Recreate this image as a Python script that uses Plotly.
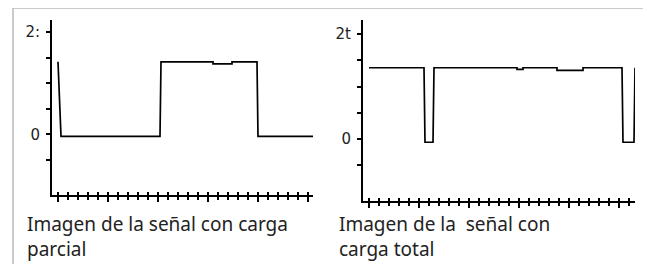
import plotly.graph_objects as go

# page is shown with the browser's default 8px body margin
OFF = 8
W, H = 651 - OFF, 264 - OFF

# ---- data (x in time units, y in multiples of t) ----
x_parcial = [0, 0.3, 10.2, 10.3, 15.5, 15.5, 17.4, 17.4, 19.9, 20.0, 25.5]
y_parcial = [1.42, -0.04, -0.04, 1.42, 1.42, 1.38, 1.38, 1.42, 1.42, -0.04, -0.04]

x_total = [0, 5.5, 5.6, 6.4, 6.5, 14.8, 14.8, 15.4, 15.4, 18.8, 18.8, 21.4, 21.4, 25.3, 25.4, 26.5, 26.6]
y_total = [1.36, 1.36, -0.06, -0.06, 1.36, 1.36, 1.33, 1.33, 1.36, 1.36, 1.31, 1.31, 1.36, 1.36, -0.06, -0.06, 1.36]

y_tickvals = [-0.5, 0, 0.5, 1, 1.5, 2]
y_ticktext_parcial = ["", "0", "", "", "", "2:"]
y_ticktext_total = ["", "0", "", "", "", "2t"]

caption_parcial = ["Imagen de la señal con carga", "parcial"]
caption_total = ["Imagen de la\u00a0 señal con", "carga total"]


def px_x(p):
    return (p - OFF) / W


def px_y(p):
    return 1 - (p - OFF) / H


fig = go.Figure()
fig.add_trace(go.Scatter(x=x_parcial, y=y_parcial, mode="lines",
                         line=dict(color="black", width=1.7), xaxis="x", yaxis="y",
                         showlegend=False, hoverinfo="skip"))
fig.add_trace(go.Scatter(x=x_total, y=y_total, mode="lines",
                         line=dict(color="black", width=1.7), xaxis="x2", yaxis="y2",
                         showlegend=False, hoverinfo="skip"))
# invisible traces so the overlay axes (upper halves of the cross ticks) are drawn
fig.add_trace(go.Scatter(x=[x_parcial[0]], y=[y_parcial[0]], mode="markers", opacity=0,
                         xaxis="x3", yaxis="y", showlegend=False, hoverinfo="skip"))
fig.add_trace(go.Scatter(x=[x_total[0]], y=[y_total[0]], mode="markers", opacity=0,
                         xaxis="x4", yaxis="y2", showlegend=False, hoverinfo="skip"))

tickfont = dict(family="DejaVu Sans", size=15, color="#222")


def xaxis_cfg(domain, rng, anchor):
    return dict(domain=domain, range=rng, anchor=anchor, showgrid=False, zeroline=False,
                showline=True, linecolor="black", linewidth=2,
                tickmode="linear", tick0=0, dtick=5, ticks="outside", ticklen=5,
                tickwidth=1.5, tickcolor="black", showticklabels=False,
                minor=dict(tickmode="linear", tick0=0, dtick=1, ticks="outside",
                           ticklen=3, tickwidth=1.5, tickcolor="black"))


def xaxis_over(over, rng, anchor, domain):
    return dict(overlaying=over, domain=domain, range=rng, anchor=anchor, side="bottom",
                showgrid=False, zeroline=False, showline=False,
                tickmode="linear", tick0=0, dtick=1, ticks="inside", ticklen=3,
                tickwidth=1.5, tickcolor="black", showticklabels=False)


def yaxis_cfg(domain, rng, anchor, ticktext):
    return dict(domain=domain, range=rng, anchor=anchor, showgrid=False, zeroline=False,
                showline=True, linecolor="black", linewidth=2,
                tickmode="array", tickvals=y_tickvals, ticktext=ticktext,
                ticks="outside", ticklen=4, tickwidth=2, tickcolor="black",
                tickfont=tickfont, ticklabelstandoff=3)


dom_x1 = [px_x(52), px_x(313)]
dom_y1 = [px_y(195), px_y(20)]
dom_x2 = [px_x(363), px_x(635)]
dom_y2 = [px_y(201), px_y(20)]
rx1 = [-0.6, 25.5]
ry1 = [-1.19, 2.24]
rx2 = [-0.6, 26.6]
ry2 = [-1.18, 2.27]

fig.update_layout(
    width=W, height=H, margin=dict(l=0, r=0, t=0, b=0),
    paper_bgcolor="white", plot_bgcolor="white",
    xaxis=xaxis_cfg(dom_x1, rx1, "y"),
    yaxis=yaxis_cfg(dom_y1, ry1, "x", y_ticktext_parcial),
    xaxis2=xaxis_cfg(dom_x2, rx2, "y2"),
    yaxis2=yaxis_cfg(dom_y2, ry2, "x2", y_ticktext_total),
    xaxis3=xaxis_over("x", rx1, "y", dom_x1),
    xaxis4=xaxis_over("x2", rx2, "y2", dom_x2),
)

# frame
frame_color = "#b8b8b8"
for (x0, y0, x1, y1) in [(13, 8, 648, 8), (13, 8, 13, 270), (648, 8, 648, 270)]:
    fig.add_shape(type="line", xref="paper", yref="paper",
                  x0=px_x(x0), y0=px_y(y0), x1=px_x(x1), y1=px_y(y1),
                  line=dict(color=frame_color, width=1.5))

capfont = dict(family="Noto Sans", size=19, color="#222")
for lines, x0 in [(caption_parcial, 26), (caption_total, 338)]:
    fig.add_annotation(text="<br>".join(lines), xref="paper", yref="paper",
                       x=px_x(x0), y=px_y(263), xanchor="left", yanchor="bottom",
                       align="left", showarrow=False, font=capfont, borderpad=0)

fig.write_html("out.html")
